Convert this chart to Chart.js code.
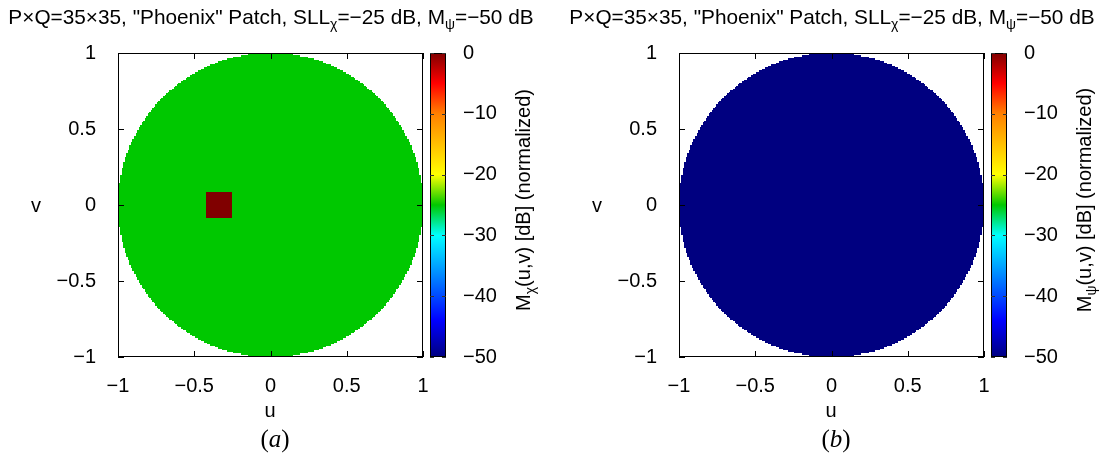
<!DOCTYPE html>
<html>
<head>
<meta charset="utf-8">
<script src="https://cdn.jsdelivr.net/npm/chart.js@4/dist/chart.umd.min.js"></script>
<style>
  body { margin: 0; background: #fff; }
  #wrap { position: relative; width: 1101px; height: 458px; overflow: hidden;
          font-family: 'Liberation Sans', Arial, sans-serif; color: #000; }
  canvas { position: absolute; top: 0; }
  .txt { position: absolute; font-size: 20px; line-height: 24px; text-align: center; white-space: nowrap; }
  .ttl { font-size: 20.8px; }
  .txt sub { font-size: 14px; vertical-align: -5px; line-height: 0; }
  .cap { position: absolute; font-family: 'Liberation Serif', 'Times New Roman', serif; font-size: 25px;
         line-height: 28px; text-align: center; width: 60px; }
  .rot { transform: rotate(-90deg); }
</style>
</head>
<body>
<div id="wrap">
  <canvas id="chartA" width="561" height="458" style="left:0"></canvas>
  <canvas id="chartB" width="540" height="458" style="left:561px"></canvas>

  <div class="txt ttl" style="left:-29px;top:5px;width:600px">P×Q=35×35, "Phoenix" Patch, SLL<sub>χ</sub>=−25 dB, M<sub>ψ</sub>=−50 dB</div>
  <div class="txt ttl" style="left:532px;top:5px;width:600px">P×Q=35×35, "Phoenix" Patch, SLL<sub>χ</sub>=−25 dB, M<sub>ψ</sub>=−50 dB</div>

  <div class="txt" style="left:26px;top:193px;width:20px">v</div>
  <div class="txt" style="left:587px;top:193px;width:20px">v</div>
  <div class="txt" style="left:250px;top:398px;width:40px">u</div>
  <div class="txt" style="left:811px;top:398px;width:40px">u</div>

  <div class="txt rot" style="left:373px;top:188px;width:300px">M<sub>χ</sub>(u,v) [dB] (normalized)</div>
  <div class="txt rot" style="left:934px;top:188px;width:300px">M<sub>ψ</sub>(u,v) [dB] (normalized)</div>

  <div class="cap" style="left:245px;top:425px">(<i>a</i>)</div>
  <div class="cap" style="left:806px;top:425px">(<i>b</i>)</div>
</div>

<script>
// ===== DATA =====
const uTicks = [-1, -0.5, 0, 0.5, 1];
const vTicks = [-1, -0.5, 0, 0.5, 1];
const cbTicks = [-50, -40, -30, -20, -10, 0];

// level of each map inside the visible region u^2+v^2<=1 (dB)
const chiLevel = -25;
const psiLevel = -50;

// the "Phoenix" patch in the chi map
const chiPatchU = [-0.42, -0.26];
const chiPatchV = [-0.08, 0.08];
const chiPatchLevel = 0;

// colour bar stops (dB, colour)
const cbValues = [-50, -44, -30, -25, -20, -10, -5, 0];
const cbColors = ['#000080', '#0000ff', '#00ffff', '#00c800', '#ffff00', '#ff8000', '#ff0000', '#800000'];

const gridN = 100;      // samples per unit in u and v

// ===== HELPERS =====
function hexRgb(h) {
    return [parseInt(h.slice(1, 3), 16), parseInt(h.slice(3, 5), 16), parseInt(h.slice(5, 7), 16)];
}

function colorOf(val) {
    if (val <= cbValues[0]) return cbColors[0];
    for (let i = 1; i < cbValues.length; i++) {
        if (val <= cbValues[i]) {
            const f = (val - cbValues[i - 1]) / (cbValues[i] - cbValues[i - 1]);
            const a = hexRgb(cbColors[i - 1]), b = hexRgb(cbColors[i]);
            const c = a.map((x, k) => Math.round(x + (b[k] - x) * f));
            return `rgb(${c[0]},${c[1]},${c[2]})`;
        }
    }
    return cbColors[cbColors.length - 1];
}

function fmt(v) {
    return v < 0 ? '\u2212' + Math.abs(v) : String(v);
}

// ===== PLUGIN: peta, bingkai, colorbar =====
const mapPlugin = {
    id: 'mapPlugin',
    beforeDatasetsDraw(chart) {
        const { ctx, chartArea: a, scales: { x, y } } = chart;
        const m = chart.options.plugins.mapPlugin;
        ctx.save();
        ctx.beginPath();
        ctx.rect(a.left, a.top, a.right - a.left, a.bottom - a.top);
        ctx.clip();
        const h = 0.5 / gridN;
        for (let i = -gridN; i <= gridN; i++) {
            const u = i / gridN;
            const x0 = Math.round(x.getPixelForValue(u - h));
            const x1 = Math.round(x.getPixelForValue(u + h));
            for (let j = -gridN; j <= gridN; j++) {
                const v = j / gridN;
                if (u * u + v * v > 1) continue;
                let val = m.level;
                if (m.patchU && u >= m.patchU[0] && u <= m.patchU[1] && v >= m.patchV[0] && v <= m.patchV[1]) {
                    val = m.patchLevel;
                }
                const y0 = Math.round(y.getPixelForValue(v - h));
                const y1 = Math.round(y.getPixelForValue(v + h));
                ctx.fillStyle = colorOf(val);
                ctx.fillRect(x0, y1, x1 - x0, y0 - y1);
            }
        }
        ctx.restore();
    },
    afterDraw(chart) {
        const { ctx, chartArea: a, scales: { x, y, cb } } = chart;
        ctx.save();
        ctx.strokeStyle = '#000';
        ctx.lineWidth = 1;

        // bingkai
        ctx.strokeRect(a.left + 0.5, a.top + 0.5, a.right - a.left - 1, a.bottom - a.top - 1);

        // tick ke dalam
        const tl = 6;
        ctx.beginPath();
        uTicks.forEach(t => {
            const px = Math.round(x.getPixelForValue(t)) + 0.5;
            ctx.moveTo(px, a.bottom); ctx.lineTo(px, a.bottom - tl);
            ctx.moveTo(px, a.top); ctx.lineTo(px, a.top + tl);
        });
        vTicks.forEach(t => {
            const py = Math.round(y.getPixelForValue(t)) + 0.5;
            ctx.moveTo(a.left, py); ctx.lineTo(a.left + tl, py);
            ctx.moveTo(a.right, py); ctx.lineTo(a.right - tl, py);
        });
        ctx.stroke();

        // colorbar
        const bx = a.right + 7, bw = 16;
        const top = cb.getPixelForValue(0), bot = cb.getPixelForValue(-50);
        const g = ctx.createLinearGradient(0, bot, 0, top);
        cbValues.forEach((v, i) => g.addColorStop((v + 50) / 50, cbColors[i]));
        ctx.fillStyle = g;
        ctx.fillRect(bx, top, bw, bot - top);
        ctx.strokeRect(bx + 0.5, top + 0.5, bw - 1, bot - top - 1);

        ctx.beginPath();
        cbTicks.forEach(t => {
            const py = Math.round(cb.getPixelForValue(t)) + 0.5;
            ctx.moveTo(bx, py); ctx.lineTo(bx + 4, py);
            ctx.moveTo(bx + bw, py); ctx.lineTo(bx + bw - 4, py);
        });
        ctx.strokeStyle = '#333';
        ctx.stroke();
        ctx.restore();
    }
};

// ===== CHART =====
Chart.defaults.font.family = "'Liberation Sans', Arial, sans-serif";
Chart.defaults.font.size = 20;
Chart.defaults.color = '#000';

function makePanel(id, cbWidth, m) {
    const tickOpt = (pad) => ({ padding: pad, callback: fmt, autoSkip: false, maxRotation: 0 });
    return new Chart(document.getElementById(id), {
        type: 'scatter',
        data: { datasets: [] },
        options: {
            responsive: false,
            animation: false,
            events: [],
            layout: { padding: { top: 53, left: 0, right: 0, bottom: 0 } },
            plugins: { legend: { display: false }, tooltip: { enabled: false }, mapPlugin: m },
            scales: {
                x: {
                    type: 'linear', min: -1, max: 1,
                    afterBuildTicks: s => { s.ticks = uTicks.map(v => ({ value: v })); },
                    afterFit: s => { s.height = 101; },
                    ticks: tickOpt(9),
                    grid: { display: false }, border: { display: false }
                },
                y: {
                    type: 'linear', min: -1, max: 1,
                    afterBuildTicks: s => { s.ticks = vTicks.map(v => ({ value: v })); },
                    afterFit: s => { s.width = 118; },
                    ticks: tickOpt(14),
                    grid: { display: false }, border: { display: false }
                },
                cb: {
                    type: 'linear', position: 'right', min: -50, max: 0,
                    afterBuildTicks: s => { s.ticks = cbTicks.map(v => ({ value: v })); },
                    afterFit: s => { s.width = cbWidth; },
                    ticks: tickOpt(32),
                    grid: { display: false }, border: { display: false }
                }
            }
        },
        plugins: [mapPlugin]
    });
}

makePanel('chartA', 138, { level: chiLevel, patchU: chiPatchU, patchV: chiPatchV, patchLevel: chiPatchLevel });
makePanel('chartB', 117, { level: psiLevel });
</script>
</body>
</html>
